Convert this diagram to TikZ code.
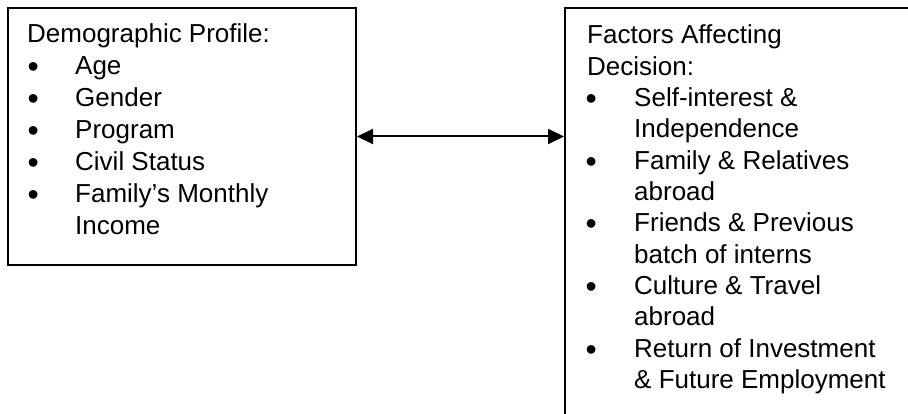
\documentclass[tikz,border=0pt]{standalone}
\usepackage{fontspec}
\setmainfont{Liberation Sans}
\usetikzlibrary{arrows.meta}
\begin{document}
\begin{tikzpicture}[x=1pt,y=-1pt,
  box/.style={draw=black,line width=2pt,rectangle,inner sep=0pt},
  txt/.style={anchor=base west,inner sep=0pt,font=\fontsize{26}{31}\selectfont},
  bul/.style={anchor=base west,inner sep=0pt,font=\fontsize{32}{32}\selectfont,yshift=-3pt},
  conn/.style={line width=2pt,{Triangle[length=16pt,width=15pt]}-{Triangle[length=16pt,width=15pt]}}]
\useasboundingbox (0,0) rectangle (908,414);
\begin{scope}
\clip (0,0) rectangle (908,414);
\node[box,minimum width=348pt,minimum height=257pt,anchor=north west] (L) at (7,7) {};
\node[box,minimum width=360pt,minimum height=430pt,anchor=north west] (R) at (564,7) {};
\end{scope}
% left box text
\node[txt] (lt) at (27,43) {Demographic Profile:};
\foreach \t [count=\i] in {Age,Gender,Program,Civil Status,Family’s Monthly} {
  \node[bul] (lb\i) at (27.4,43+32*\i) {•};
  \node[txt] (li\i) at (75,43+32*\i) {\t};
}
\node[txt] (li6) at (75,235) {Income};
% right box text
\node[txt] (rt1) at (587,44) {Factors Affecting};
\node[txt] (rt2) at (587,75.3) {Decision:};
\foreach \t/\b [count=\i from 2] in {Self-interest \&/1,Independence/0,Family \& Relatives/1,abroad/0,Friends \& Previous/1,batch of interns/0,Culture \& Travel/1,abroad/0,Return of Investment/1,\& Future Employment/0} {
  \node[txt] (ri\i) at (634,44+31.3*\i) {\t};
  \ifnum\b=1 \node[bul] (rb\i) at (585.4,44+31.3*\i) {•}; \fi
}
% connector
\draw[conn] (L.east) -- (L.east -| R.west);
\end{tikzpicture}
\end{document}
